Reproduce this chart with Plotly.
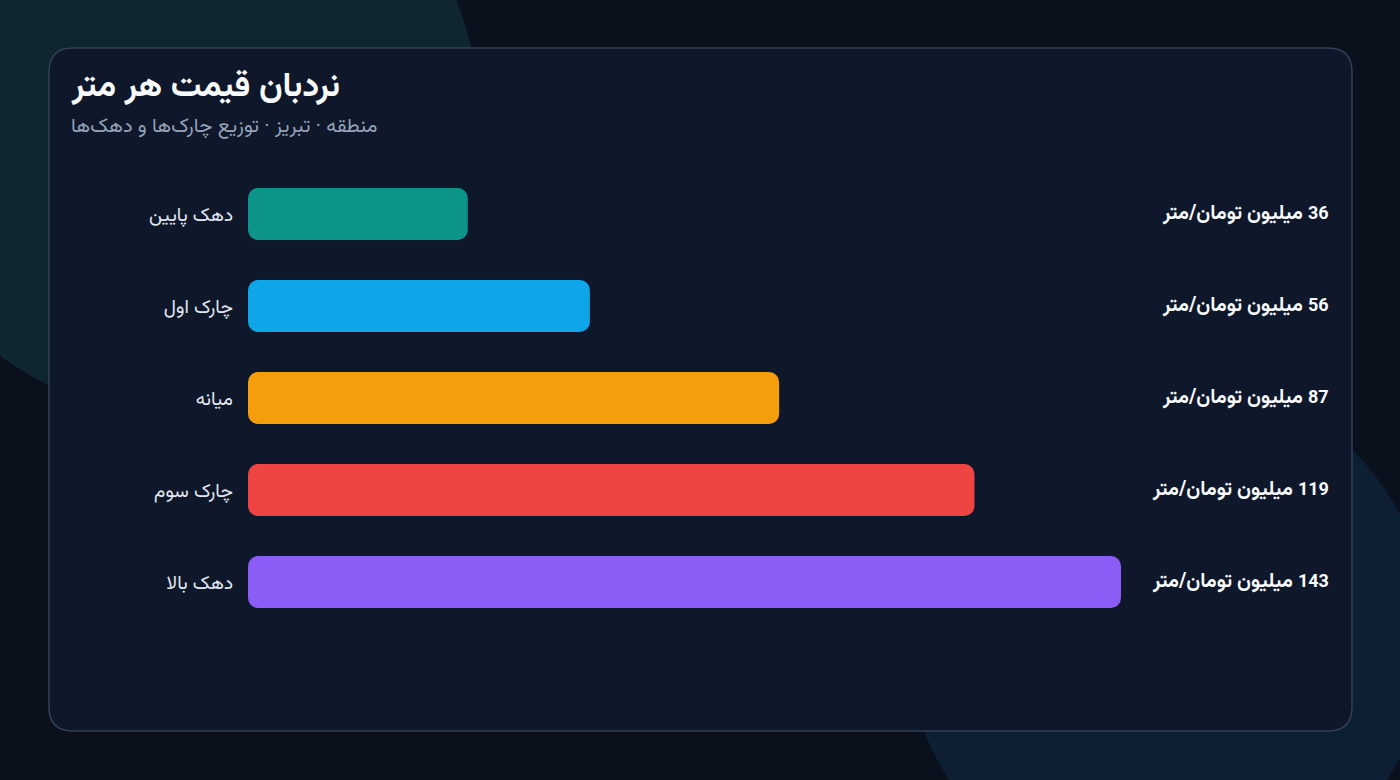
"""نردبان قیمت هر متر: نوار افقی چارک‌ها و دهک‌های قیمت هر متر در تبریز."""
import plotly.graph_objects as go

CATEGORIES = ['دهک پایین', 'چارک اول', 'میانه', 'چارک سوم', 'دهک بالا']
VALUES = [36, 56, 87, 119, 143]
COLORS = ['#0d9488', '#0ea5e9', '#f59e0b', '#ef4444', '#8b5cf6']
UNIT = 'میلیون تومان/متر'
TITLE = 'نردبان قیمت هر متر'
SUBTITLE = 'منطقه · تبریز · توزیع چارک‌ها و دهک‌ها'

W, H = 1400, 780
# plot area in pixels
L, R, T, B = 248, 1121, 168, 628

PAGE_BG = '#0b111c'
CARD_BG = '#0f172a'
FONT = "Vazirmatn, Roboto, 'DejaVu Sans', sans-serif"


def px(x):
    return (x - L) / (R - L)


def py(y):
    return (B - y) / (B - T)


def rounded_rect(x0, y0, x1, y1, r):
    pts = [
        ('M', x0 + r, y0), ('L', x1 - r, y0), ('Q', x1, y0, x1, y0 + r),
        ('L', x1, y1 - r), ('Q', x1, y1, x1 - r, y1),
        ('L', x0 + r, y1), ('Q', x0, y1, x0, y1 - r),
        ('L', x0, y0 + r), ('Q', x0, y0, x0 + r, y0),
    ]
    out = []
    for p in pts:
        cmd, coords = p[0], p[1:]
        xy = []
        for i in range(0, len(coords), 2):
            xy.append(f'{px(coords[i]):.5f},{py(coords[i + 1]):.5f}')
        out.append(cmd + ' ' + ' '.join(xy))
    return ' '.join(out) + ' Z'


def circle(cx, cy, r, color):
    return dict(type='circle', xref='paper', yref='paper', layer='below',
                x0=px(cx - r), x1=px(cx + r), y0=py(cy + r), y1=py(cy - r),
                fillcolor=color, line=dict(width=0))


fig = go.Figure()
# an explicit base makes plotly round both ends of each bar
fig.add_trace(go.Bar(
    x=VALUES, base=[0] * len(VALUES), y=CATEGORIES, orientation='h',
    marker=dict(color=COLORS, cornerradius=10, line=dict(width=0)),
    hoverinfo='skip', showlegend=False,
))

shapes = [
    circle(179, 115, 300, '#0f2530'),
    circle(1168, 636, 262, '#0c1f33'),
    dict(type='path', xref='paper', yref='paper', layer='below',
         path=rounded_rect(49, 48, 1352, 731, 24),
         fillcolor=CARD_BG, line=dict(color='#334155', width=1.5)),
]

annotations = [
    dict(text=f'<b>{TITLE}</b>', xref='paper', yref='paper', x=px(69), y=py(87),
         xanchor='left', yanchor='middle', showarrow=False,
         font=dict(size=34, color='#f8fafc', family=FONT)),
    dict(text=SUBTITLE, xref='paper', yref='paper', x=px(69), y=py(127),
         xanchor='left', yanchor='middle', showarrow=False,
         font=dict(size=20, color='#94a3b8', family=FONT)),
]
for cat, v in zip(CATEGORIES, VALUES):
    # RLM keeps the number on the right of the Persian unit
    annotations.append(dict(
        text=f'<b>\u200f<span style="font-size:18px">{v}</span> {UNIT}</b>',
        xref='paper', yref='y', x=px(1331), y=cat,
        xanchor='right', yanchor='middle', showarrow=False,
        font=dict(size=20, color='#f8fafc', family=FONT),
    ))

fig.update_layout(
    width=W, height=H,
    margin=dict(l=L, r=W - R, t=T, b=H - B, pad=0),
    paper_bgcolor=PAGE_BG, plot_bgcolor='rgba(0,0,0,0)',
    font=dict(family=FONT, color='#e2e8f0'),
    bargap=0.435,
    xaxis=dict(range=[0, 143], visible=False, fixedrange=True),
    yaxis=dict(autorange='reversed', showgrid=False, zeroline=False, showline=False,
               ticks='', ticklabelstandoff=14, tickfont=dict(size=19, color='#e2e8f0'),
               fixedrange=True),
    shapes=shapes,
    annotations=annotations,
)

fig.write_html('out.html', config={'displayModeBar': False},
               post_script="document.body.style.margin='0';")
